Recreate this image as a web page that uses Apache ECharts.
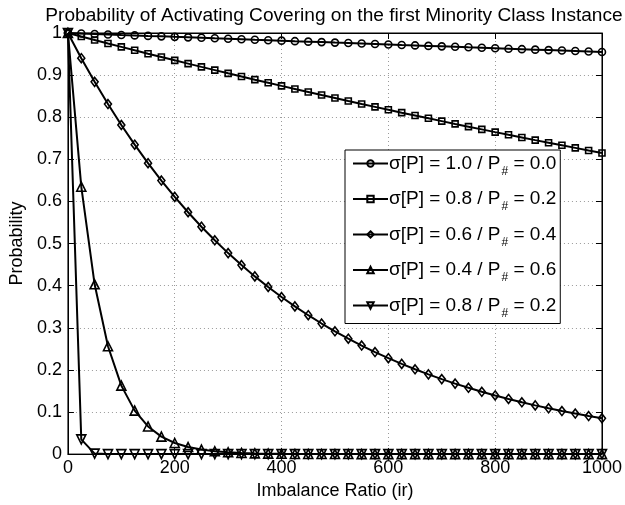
<!DOCTYPE html>
<html>
<head>
<meta charset="utf-8">
<script src="https://cdn.jsdelivr.net/npm/echarts@6/dist/echarts.min.js"></script>
<style>html,body{margin:0;padding:0;background:#fff}#c{width:625px;height:505px}</style>
</head>
<body>
<div id="c"></div>
<script>
var irValues = [0,25,50,75,100,125,150,175,200,225,250,275,300,325,350,375,400,425,450,475,500,525,550,575,600,625,650,675,700,725,750,775,800,825,850,875,900,925,950,975,1000];
var s1Values = [1.0000,0.9988,0.9977,0.9966,0.9954,0.9943,0.9931,0.9920,0.9908,0.9897,0.9886,0.9874,0.9863,0.9852,0.9840,0.9829,0.9818,0.9806,0.9795,0.9784,0.9772,0.9761,0.9750,0.9739,0.9728,0.9716,0.9705,0.9694,0.9683,0.9672,0.9660,0.9649,0.9638,0.9627,0.9616,0.9605,0.9594,0.9583,0.9572,0.9561,0.9550];
var s2Values = [1.0000,0.9916,0.9834,0.9751,0.9670,0.9589,0.9509,0.9430,0.9351,0.9273,0.9195,0.9119,0.9042,0.8967,0.8892,0.8818,0.8744,0.8671,0.8598,0.8526,0.8456,0.8385,0.8315,0.8246,0.8177,0.8108,0.8041,0.7974,0.7907,0.7841,0.7776,0.7711,0.7646,0.7582,0.7519,0.7456,0.7394,0.7333,0.7272,0.7210,0.7150];
var s3Values = [1.0000,0.9402,0.8840,0.8312,0.7815,0.7348,0.6909,0.6496,0.6108,0.5743,0.5400,0.5077,0.4773,0.4488,0.4220,0.3968,0.3730,0.3508,0.3298,0.3101,0.2916,0.2741,0.2577,0.2423,0.2278,0.2142,0.2014,0.1894,0.1781,0.1674,0.1574,0.1480,0.1392,0.1309,0.1230,0.1157,0.1088,0.1023,0.0962,0.0904,0.0850];
var s4Values = [1.0000,0.6350,0.4032,0.2561,0.1626,0.1032,0.0656,0.0416,0.0264,0.0168,0.0107,0.0068,0.0043,0.0027,0.0017,0.0011,0.0007,0.0004,0.0003,0.0002,0.0001,0.0001,0,0,0,0,0,0,0,0,0,0,0,0,0,0,0,0,0,0,0];
var s5Values = [1.0000,0.0350,0.0012,0,0,0,0,0,0,0,0,0,0,0,0,0,0,0,0,0,0,0,0,0,0,0,0,0,0,0,0,0,0,0,0,0,0,0,0,0,0];
var legendSigma = ['1.0','0.8','0.6','0.4','0.8'];
var legendPsub = ['0.0','0.2','0.4','0.6','0.2'];

var seriesValues = [s1Values,s2Values,s3Values,s4Values,s5Values];
var seriesIds = ['S1','S2','S3','S4','S5'];
var symbols = ['circle','rect','diamond','triangle','triangle'];
var symbolSizes = [7,6,[7,9],9,9];
var symbolRot = [0,0,0,0,180];

function pairs(vals){ return irValues.map(function(x,i){ return [x, vals[i]]; }); }

var font = 'Liberation Sans, Arial, Helvetica, sans-serif';
var series = seriesValues.map(function(v,i){
  return {
    name: seriesIds[i], type:'line', data: pairs(v),
    symbol: symbols[i], symbolSize: symbolSizes[i], symbolRotate: symbolRot[i],
    showAllSymbol: true,
    lineStyle:{color:'#000', width:2},
    itemStyle:{color:'none', borderColor:'#000', borderWidth:1.6},
    emphasis:{disabled:true}, animation:false, z: 2+i
  };
});

var tickStyle = {show:true, inside:true, length:6, lineStyle:{color:'#000', width:1}};
var chart = echarts.init(document.getElementById('c'), null, {renderer:'canvas'});
chart.setOption({
  animation:false,
  backgroundColor:'#fff',
  title:{text:'Probability of Activating Covering on the first Minority Class Instance', left:329, textAlign:'center', top:1,
    textStyle:{fontFamily:font, fontSize:19.1, fontWeight:'normal', color:'#000'}},
  grid:{left:67, right:23, top:33, bottom:49, show:true, borderColor:'#000', borderWidth:1, backgroundColor:'transparent'},
  xAxis:[{type:'value', min:0, max:1000, interval:200,
    name:'Imbalance Ratio (ir)', nameLocation:'middle', nameGap:24,
    nameTextStyle:{fontFamily:font, fontSize:18, color:'#000', verticalAlign:'top'},
    axisLine:{show:true, onZero:false, lineStyle:{color:'#000'}},
    axisTick:tickStyle,
    axisLabel:{fontFamily:font, fontSize:18, color:'#000', margin:5, formatter:function(v){return String(v);}},
    splitLine:{show:true, lineStyle:{color:'#9a9a9a', type:[1,3], width:1}}},
   {type:'value', position:'top', min:0, max:1000, interval:200,
    axisLine:{show:true, onZero:false, lineStyle:{color:'#000'}},
    axisTick:tickStyle, axisLabel:{show:false}, splitLine:{show:false}}],
  yAxis:[{type:'value', min:0, max:1, interval:0.1,
    name:'Probability', nameLocation:'middle', nameGap:35, nameRotate:90,
    nameTextStyle:{fontFamily:font, fontSize:18, color:'#000'},
    axisLine:{show:true, onZero:false, lineStyle:{color:'#000'}},
    axisTick:tickStyle,
    axisLabel:{fontFamily:font, fontSize:18, color:'#000', margin:6,
      formatter:function(v){ var r=Math.round(v*10)/10; return (r===0||r===1)? String(r) : r.toFixed(1); }},
    splitLine:{show:true, lineStyle:{color:'#9a9a9a', type:[1,3], width:1}}},
   {type:'value', position:'right', min:0, max:1, interval:0.1,
    axisLine:{show:true, onZero:false, lineStyle:{color:'#000'}},
    axisTick:tickStyle, axisLabel:{show:false}, splitLine:{show:false}}],
  legend:{orient:'vertical', left:345, top:150, width:214,
    padding:[4,4,4,7], itemGap:12, itemWidth:35, itemHeight:8,
    backgroundColor:'#fff', borderColor:'#000', borderWidth:1,
    data: seriesIds,
    formatter:function(name){ var i=seriesIds.indexOf(name); return 'σ[P] = '+legendSigma[i]+' / P{s|#} = '+legendPsub[i]; },
    textStyle:{fontFamily:font, fontSize:19, color:'#000', padding:[0,0,0,-4],
      rich:{s:{fontFamily:font, fontSize:12, color:'#000', padding:[16,0,0,1]}}},
    selectedMode:false},
  series: series
});
</script>
</body>
</html>
